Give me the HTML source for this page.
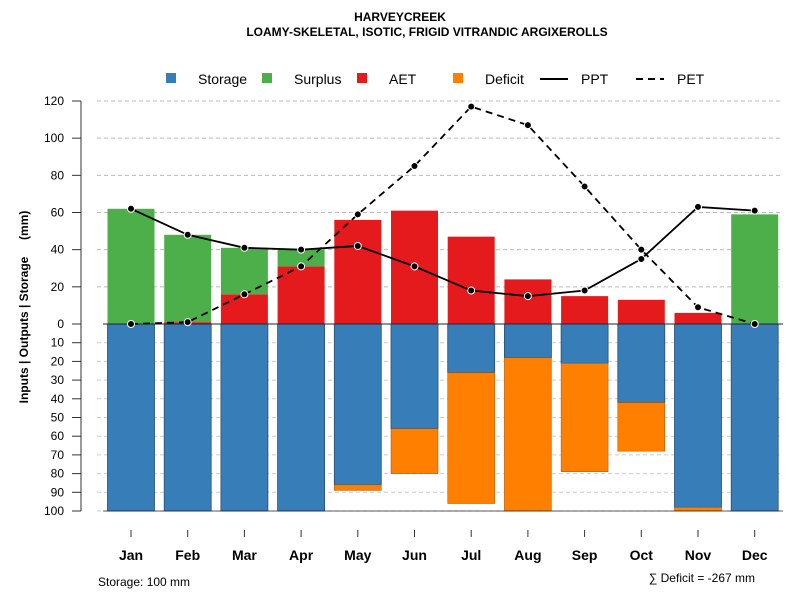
<!DOCTYPE html>
<html><head><meta charset="utf-8"><style>
body{margin:0;background:#fff;}
svg{display:block;font-family:"Liberation Sans",sans-serif;}
</style></head><body>
<svg id="c" width="800" height="600">
<text x="400" y="21" text-anchor="middle" font-size="12" font-weight="bold">HARVEYCREEK</text>
<text x="427" y="36" text-anchor="middle" font-size="12" font-weight="bold">LOAMY-SKELETAL, ISOTIC, FRIGID VITRANDIC ARGIXEROLLS</text>
<g id="legend" font-size="14">
<rect x="166" y="73" width="10" height="10" fill="#377EB8"/>
<text x="198" y="84">Storage</text>
<rect x="262" y="73" width="10" height="10" fill="#4DAF4A"/>
<text x="294" y="84">Surplus</text>
<rect x="357" y="73" width="10" height="10" fill="#E41A1C"/>
<text x="389" y="84">AET</text>
<rect x="453" y="73" width="10" height="10" fill="#FF7F00"/>
<text x="485" y="84">Deficit</text>
<line x1="540" y1="79" x2="568" y2="79" stroke="#000" stroke-width="2"/>
<text x="581" y="84">PPT</text>
<line x1="636" y1="79" x2="664" y2="79" stroke="#000" stroke-width="2" stroke-dasharray="7,5"/>
<text x="677" y="84">PET</text>
</g>
<text transform="translate(28,307) rotate(-90)" text-anchor="middle" font-size="12" font-weight="bold" style="white-space:pre">Inputs | Outputs | Storage     (mm)</text>
<text x="98" y="586" font-size="12">Storage: 100 mm</text>
<text x="755" y="582" text-anchor="end" font-size="12">∑ Deficit = -267 mm</text>
</svg>
<script>
const months=["Jan","Feb","Mar","Apr","May","Jun","Jul","Aug","Sep","Oct","Nov","Dec"];
const ppt=[62,48,41,40,42,31,18,15,18,35,63,61];
const pet=[0,1,16,31,59,85,117,107,74,40,9,0];
const aet=[0,1,16,31,56,61,47,24,15,13,6,0];
const surplus=[62,47,25,9,0,0,0,0,0,0,0,59];
const storage=[100,100,100,100,86,56,26,18,21,42,98,100];
const deficit=[0,0,0,0,3,24,70,82,58,26,2,0];
const upTicks=[0,20,40,60,80,100,120];
const downTicks=[10,20,30,40,50,60,70,80,90,100];
const NS="http://www.w3.org/2000/svg";
const svg=document.getElementById('c');
function mk(t,a,p){const e=document.createElementNS(NS,t);for(const k in a)e.setAttribute(k,a[k]);(p||svg).appendChild(e);return e;}
const y0=324;
function yUp(v){return y0-v*223/120;}
function yDn(v){return y0+v*1.87;}
function xc(i){return 131+i*56.7;}
const bw=47;
const g=mk('g',{});


upTicks.forEach(v=>{if(v>0){const l=mk('line',{x1:97,x2:783,y1:yUp(v),y2:yUp(v),stroke:'#bbb','stroke-dasharray':'4,3'},g);}});
downTicks.forEach(v=>{const l=mk('line',{x1:97,x2:783,y1:yDn(v),y2:yDn(v),stroke:'#ccc','stroke-dasharray':'4,3'},g);});
const ax=mk('line',{x1:81,x2:81,y1:yUp(120),y2:yDn(100),stroke:'#777','stroke-width':1.5},g);


upTicks.forEach(v=>{mk('line',{x1:72,x2:81,y1:yUp(v),y2:yUp(v),stroke:'#333'},g);const t=mk('text',{x:64,y:yUp(v)+4,'text-anchor':'end','font-size':12},g);t.textContent=v;});
downTicks.forEach(v=>{mk('line',{x1:72,x2:81,y1:yDn(v),y2:yDn(v),stroke:'#333'},g);const t=mk('text',{x:64,y:yDn(v)+4,'text-anchor':'end','font-size':12},g);t.textContent=v;});
months.forEach((m,i)=>{
 const x=xc(i)-bw/2;
 if(storage[i]>0){const r=mk('rect',{x:x,y:y0,width:bw,height:yDn(storage[i])-y0,fill:'#377EB8',stroke:'#2a4f70','stroke-width':0.8},g);}
 if(deficit[i]>0){const r=mk('rect',{x:x,y:yDn(storage[i]),width:bw,height:yDn(storage[i]+deficit[i])-yDn(storage[i]),fill:'#FF7F00',stroke:'#a65200','stroke-width':0.5},g);}
 if(aet[i]>0){const r=mk('rect',{x:x,y:yUp(aet[i]),width:bw,height:y0-yUp(aet[i]),fill:'#E41A1C'},g);}
 if(surplus[i]>0){const r=mk('rect',{x:x,y:yUp(aet[i]+surplus[i]),width:bw,height:yUp(aet[i])-yUp(aet[i]+surplus[i]),fill:'#4DAF4A'},g);}
 mk('line',{x1:xc(i),x2:xc(i),y1:530,y2:537,stroke:'#333'},g);
 const t=mk('text',{x:xc(i),y:560,'text-anchor':'middle','font-size':14,'font-weight':'bold'},g);t.textContent=m;
 
 
});
const zl=mk('line',{x1:103,x2:783,y1:y0,y2:y0,stroke:'#223'},g);


const bl=mk('line',{x1:103,x2:783,y1:yDn(100),y2:yDn(100),stroke:'#223','stroke-width':0.8},g);


function series(arr,name,dash){
 const pts=arr.map((v,i)=>xc(i)+','+yUp(v)).join(' ');
 const p=mk('polyline',{points:pts,fill:'none',stroke:'#000','stroke-width':1.8,'stroke-dasharray':dash},g);
 
 
 arr.forEach((v,i)=>{const c=mk('circle',{cx:xc(i),cy:yUp(v),r:3.5,fill:'#000',stroke:'#fff','stroke-width':1},g);});
}
series(pet,'pet','7,5');
series(ppt,'ppt','none');
</script>
</body></html>
